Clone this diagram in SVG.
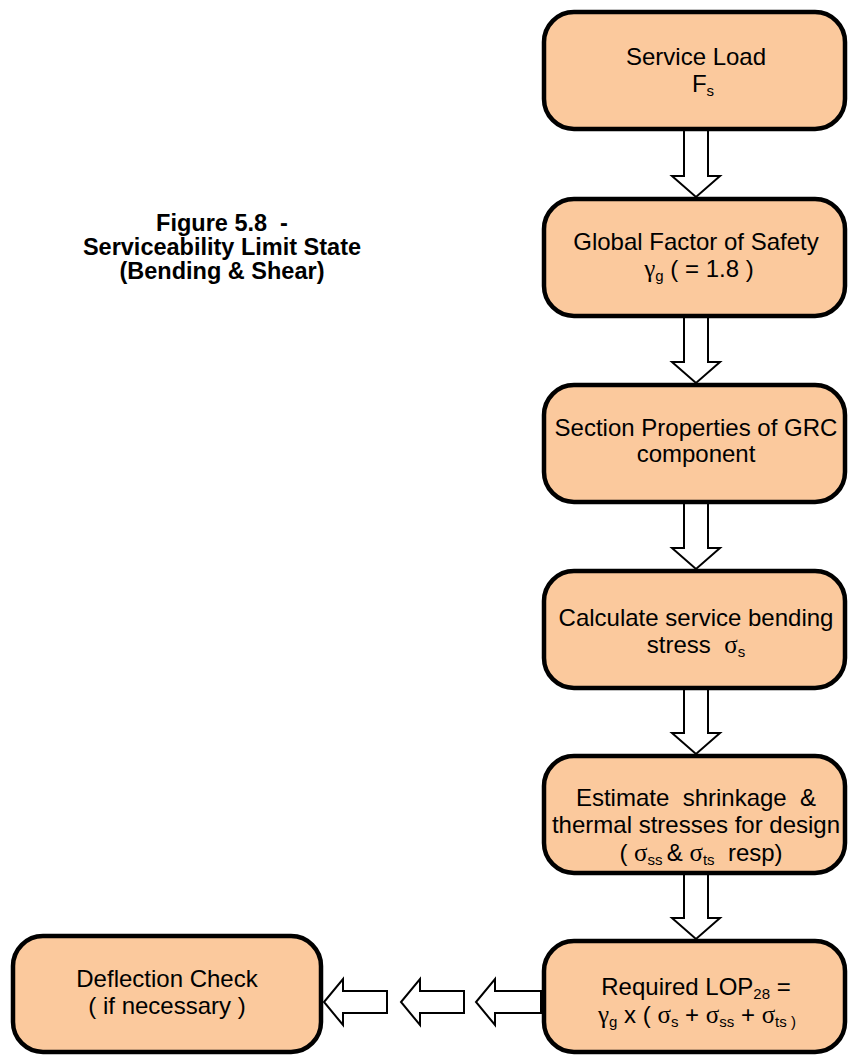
<svg xmlns="http://www.w3.org/2000/svg" width="848" height="1055" viewBox="0 0 848 1055">
<style>
.box{fill:#FBC99D;stroke:#000;stroke-width:4.5}
.t{font-family:"Liberation Sans",Arial,sans-serif;font-size:24px;fill:#000;text-anchor:middle;white-space:pre}
.g{font-family:"Liberation Serif","Times New Roman",serif;font-size:25px}
.sub{font-size:15px}
.title{font-family:"Liberation Sans",Arial,sans-serif;font-size:23.5px;font-weight:bold;text-anchor:middle;fill:#000;white-space:pre}
.arr{fill:#fff;stroke:#000;stroke-width:2;stroke-linejoin:miter}
</style>
<rect width="848" height="1055" fill="#fff"/>
<g id="title">
<text class="title" x="222" y="231">Figure 5.8  -</text>
<text class="title" x="222" y="255">Serviceability Limit State</text>
<text class="title" x="222" y="279">(Bending &amp; Shear)</text>
</g>
<g id="connectors">
<polygon class="arr" points="684,129 708,129 708,176 720,176 696,197 672,176 684,176"/>
<polygon class="arr" points="684,316 708,316 708,362 720,362 696,383 672,362 684,362"/>
<polygon class="arr" points="684,502 708,502 708,548 720,548 696,569 672,548 684,548"/>
<polygon class="arr" points="684,688 708,688 708,733 720,733 696,754 672,733 684,733"/>
<polygon class="arr" points="684,873 708,873 708,918 720,918 696,939 672,918 684,918"/>
<polygon class="arr" points="541,991 495,991 495,979 476,1002 495,1025 495,1013 541,1013"/>
<polygon class="arr" points="464,991 420,991 420,979 401,1002 420,1025 420,1013 464,1013"/>
<polygon class="arr" points="387,991 343,991 343,979 324,1002 343,1025 343,1013 387,1013"/>
</g>
<g id="n1">
<rect class="box" x="544" y="12" width="301" height="117" rx="30"/>
<text class="t" x="696" y="65">Service Load</text>
<text class="t" x="703" y="92">F<tspan class="sub" dy="4">s</tspan></text>
</g>
<g id="n2">
<rect class="box" x="544" y="199" width="301" height="117" rx="30"/>
<text class="t" x="696" y="250">Global Factor of Safety</text>
<text class="t" x="699" y="277"><tspan class="g">γ</tspan><tspan class="sub" dy="4">g</tspan><tspan dy="-4"> ( = 1.8 )</tspan></text>
</g>
<g id="n3">
<rect class="box" x="544" y="385" width="301" height="117" rx="30"/>
<text class="t" x="696" y="436">Section Properties of GRC</text>
<text class="t" x="696" y="462">component</text>
</g>
<g id="n4">
<rect class="box" x="544" y="571" width="301" height="117" rx="30"/>
<text class="t" x="696" y="626">Calculate service bending</text>
<text class="t" x="696" y="653">stress  <tspan class="g">σ</tspan><tspan class="sub" dy="4">s</tspan></text>
</g>
<g id="n5">
<rect class="box" x="544" y="756" width="301" height="117" rx="30"/>
<text class="t" x="696" y="806">Estimate  shrinkage  &amp;</text>
<text class="t" x="696" y="833">thermal stresses for design</text>
<text class="t" x="701" y="861">( <tspan class="g">σ</tspan><tspan class="sub" dy="4">ss </tspan><tspan dy="-4">&amp; </tspan><tspan class="g">σ</tspan><tspan class="sub" dy="4">ts</tspan><tspan dy="-4">  resp)</tspan></text>
</g>
<g id="n6">
<rect class="box" x="544" y="941" width="301" height="111" rx="30"/>
<text class="t" x="696" y="995">Required LOP<tspan class="sub" dy="4">28</tspan><tspan dy="-4"> =</tspan></text>
<text class="t" x="697" y="1023"><tspan class="g">γ</tspan><tspan class="sub" dy="4">g</tspan><tspan dy="-4"> x ( </tspan><tspan class="g">σ</tspan><tspan class="sub" dy="4">s</tspan><tspan dy="-4"> + </tspan><tspan class="g">σ</tspan><tspan class="sub" dy="4">ss</tspan><tspan dy="-4"> + </tspan><tspan class="g">σ</tspan><tspan class="sub" dy="4">ts )</tspan></text>
</g>
<g id="n7">
<rect class="box" x="13" y="936" width="308" height="116" rx="30"/>
<text class="t" x="167" y="987">Deflection Check</text>
<text class="t" x="167" y="1014">( if necessary )</text>
</g>
</svg>
